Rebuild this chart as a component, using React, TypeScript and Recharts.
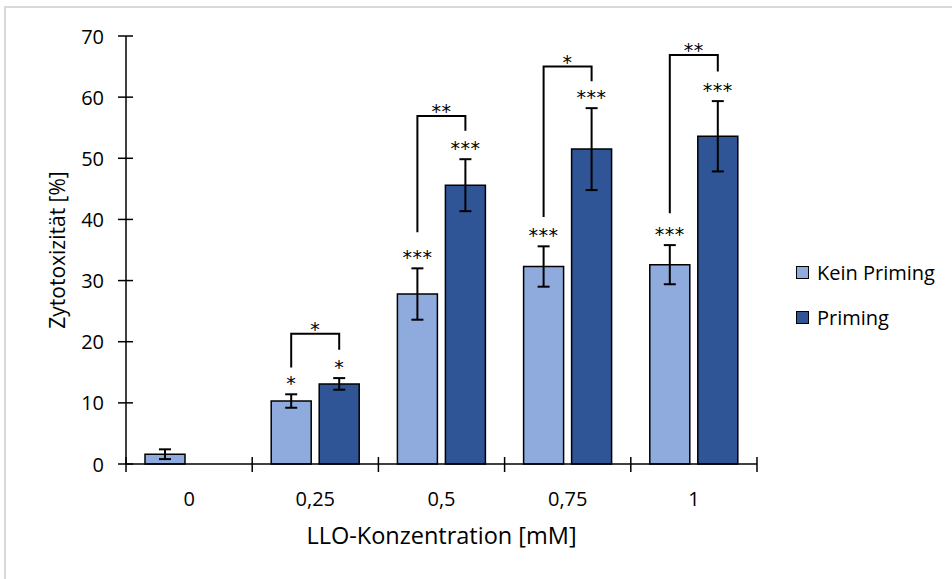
import { BarChart, Bar, XAxis, YAxis, Legend, ErrorBar, LabelList } from 'recharts';

const categories = ['0', '0,25', '0,5', '0,75', '1'];
const keinPriming = [1.6, 10.3, 27.8, 32.3, 32.6];
const keinPrimingErr = [0.8, 1.1, 4.2, 3.3, 3.2];
const priming = [0, 13.1, 45.6, 51.5, 53.6];
const primingErr = [null, 0.95, 4.25, 6.7, 5.75];

// significance stars over each bar, and over the bracket between the pair
const keinPrimingSig = ['', '*', '***', '***', '***'];
const primingSig = ['', '*', '***', '***', '***'];
const pairSig = ['', '*', '**', '*', '**'];
const pairLeft = [null, 15.8, 37.9, 40.4, 41.0];
const pairTop = [null, 21.3, 56.9, 65.0, 66.9];
const pairRight = [null, 18.7, 54.5, 62.6, 64.2];

const yTicks = [0, 10, 20, 30, 40, 50, 60, 70];

const data = categories.map((name, i) => ({
  name,
  kp: keinPriming[i],
  kpErr: keinPrimingErr[i],
  p: priming[i],
  pErr: primingErr[i],
}));

const FONT = '"Open Sans", sans-serif';
const STAR_FONT = '"DejaVu Sans", sans-serif';
const LIGHT = '#8FAADC';
const DARK = '#2F5597';
const LEGEND_W = 156;
const MARGIN = { top: 36, right: 195 - LEGEND_W, bottom: 55, left: 66 };
const Y_AXIS_W = 60;
const AXIS_X = MARGIN.left + Y_AXIS_W;
const AXIS_Y = 464;
const BAR_SIZE = 40;
const BAR_GAP = 8;

const box = (props: any) => {
  const vb = props.viewBox && props.viewBox.width !== undefined ? props.viewBox : props;
  return { x: Number(vb.x), y: Number(vb.y), width: Number(vb.width), height: Number(vb.height) };
};

const Stars = ({ x, y, text }: { x: number; y: number; text: string }) => (
  <text x={x} y={y} textAnchor="middle" fontSize={19} fontFamily={STAR_FONT} fill="#000" letterSpacing={0.5}>
    {text}
  </text>
);

const KpSig = (props: any) => {
  const { value } = props;
  const i = keinPriming.indexOf(value);
  if (i < 0 || !keinPrimingSig[i]) return null;
  const { x, y, width, height } = box(props);
  const ppu = height / value;
  const errTop = y - keinPrimingErr[i] * ppu;
  return <Stars x={x + width / 2} y={errTop - 4} text={keinPrimingSig[i]} />;
};

const PSig = (props: any) => {
  const { value } = props;
  if (!value) return null;
  const i = priming.indexOf(value);
  if (i < 0 || !primingSig[i]) return null;
  const { x, y, width, height } = box(props);
  const ppu = height / value;
  const base = y + height;
  const cx = x + width / 2;
  const errTop = y - (primingErr[i] || 0) * ppu;
  const leftX = cx - (BAR_SIZE + BAR_GAP);
  const yL = base - (pairLeft[i] || 0) * ppu;
  const yT = base - (pairTop[i] || 0) * ppu;
  const yR = base - (pairRight[i] || 0) * ppu;
  return (
    <g>
      <Stars x={cx} y={errTop - 4} text={primingSig[i]} />
      <polyline
        points={`${leftX},${yL} ${leftX},${yT} ${cx},${yT} ${cx},${yR}`}
        fill="none"
        stroke="#000"
        strokeWidth={2}
      />
      <Stars x={(leftX + cx) / 2} y={yT + 2} text={pairSig[i]} />
    </g>
  );
};

const YTick = (props: any) => {
  const { payload } = props;
  const y = payload.coordinate;
  return (
    <g>
      <line x1={AXIS_X - 8} x2={AXIS_X + 7} y1={y} y2={y} stroke="#000" strokeWidth={1.5} />
      <text x={AXIS_X - 22} y={y} textAnchor="end" dominantBaseline="central" fontSize={20} fontFamily={FONT} fill="#000">
        {payload.value}
      </text>
    </g>
  );
};

const XTick = (props: any) => {
  const { payload } = props;
  const cx = payload.coordinate;
  const half = payload.offset || 63;
  const last = payload.value === categories[categories.length - 1];
  return (
    <g>
      <line x1={cx - half} x2={cx - half} y1={AXIS_Y - 7} y2={AXIS_Y + 8} stroke="#000" strokeWidth={1.5} />
      {last && (
        <line x1={cx + half} x2={cx + half} y1={AXIS_Y - 7} y2={AXIS_Y + 8} stroke="#000" strokeWidth={1.5} />
      )}
      <text x={cx} y={AXIS_Y + 34} textAnchor="middle" dominantBaseline="central" fontSize={20} fontFamily={FONT} fill="#000">
        {payload.value}
      </text>
    </g>
  );
};

const LegendBox = () => (
  <div style={{ fontFamily: FONT, fontSize: 20, color: '#000' }}>
    {[
      { label: 'Kein Priming', color: LIGHT },
      { label: 'Priming', color: DARK },
    ].map((it) => (
      <div key={it.label} style={{ display: 'flex', alignItems: 'center', height: 45, whiteSpace: 'nowrap' }}>
        <span
          style={{
            display: 'inline-block',
            width: 11,
            height: 11,
            background: it.color,
            border: '1.5px solid #000',
            marginRight: 8,
          }}
        />
        <span>{it.label}</span>
      </div>
    ))}
  </div>
);

export default function App() {
  return (
    <div style={{ position: 'absolute', left: 0, top: 0, width: 952, height: 579, background: '#fff', overflow: 'hidden' }}>
      <div
        style={{
          position: 'absolute',
          left: 4,
          top: 6,
          right: -10,
          bottom: -10,
          borderTop: '2px solid #d9d9d9',
          borderLeft: '2px solid #d9d9d9',
        }}
      />
      <div style={{ position: 'absolute', left: 0, top: 0 }}>
        <BarChart width={952} height={579} data={data} margin={MARGIN} barSize={BAR_SIZE} barGap={BAR_GAP}>
          <XAxis
            dataKey="name"
            axisLine={{ stroke: '#000', strokeWidth: 1.5 }}
            tickLine={false}
            tick={<XTick />}
            height={60}
            interval={0}
            label={(p: any) => {
              const vb = p.viewBox;
              return (
                <text x={vb.x + vb.width / 2} y={vb.y + 71} textAnchor="middle" dominantBaseline="central" fontSize={23.5} fontFamily={FONT} fill="#000">
                  LLO-Konzentration [mM]
                </text>
              );
            }}
          />
          <YAxis
            domain={[0, 70]}
            ticks={yTicks}
            width={Y_AXIS_W}
            axisLine={{ stroke: '#000', strokeWidth: 1.5 }}
            tickLine={false}
            tick={<YTick />}
            label={(p: any) => {
              const vb = p.viewBox;
              const cx = vb.x - 9;
              const cy = vb.y + vb.height / 2;
              return (
                <text x={cx} y={cy} transform={`rotate(-90, ${cx}, ${cy})`} textAnchor="middle" dominantBaseline="central" fontSize={21} fontFamily={FONT} fill="#000">
                  Zytotoxizität [%]
                </text>
              );
            }}
          />
          <Legend
            layout="horizontal"
            verticalAlign="middle"
            align="right"
            content={<LegendBox />}
            wrapperStyle={{ left: 796, top: 250, width: LEGEND_W }}
          />
          <Bar dataKey="kp" name="Kein Priming" fill={LIGHT} stroke="#000" strokeWidth={1.5} isAnimationActive={false}>
            <ErrorBar dataKey="kpErr" width={6} stroke="#000" strokeWidth={2} direction="y" />
            <LabelList dataKey="kp" content={<KpSig />} />
          </Bar>
          <Bar dataKey="p" name="Priming" fill={DARK} stroke="#000" strokeWidth={1.5} isAnimationActive={false}>
            <ErrorBar dataKey="pErr" width={6} stroke="#000" strokeWidth={2} direction="y" />
            <LabelList dataKey="p" content={<PSig />} />
          </Bar>
        </BarChart>
      </div>
    </div>
  );
}
